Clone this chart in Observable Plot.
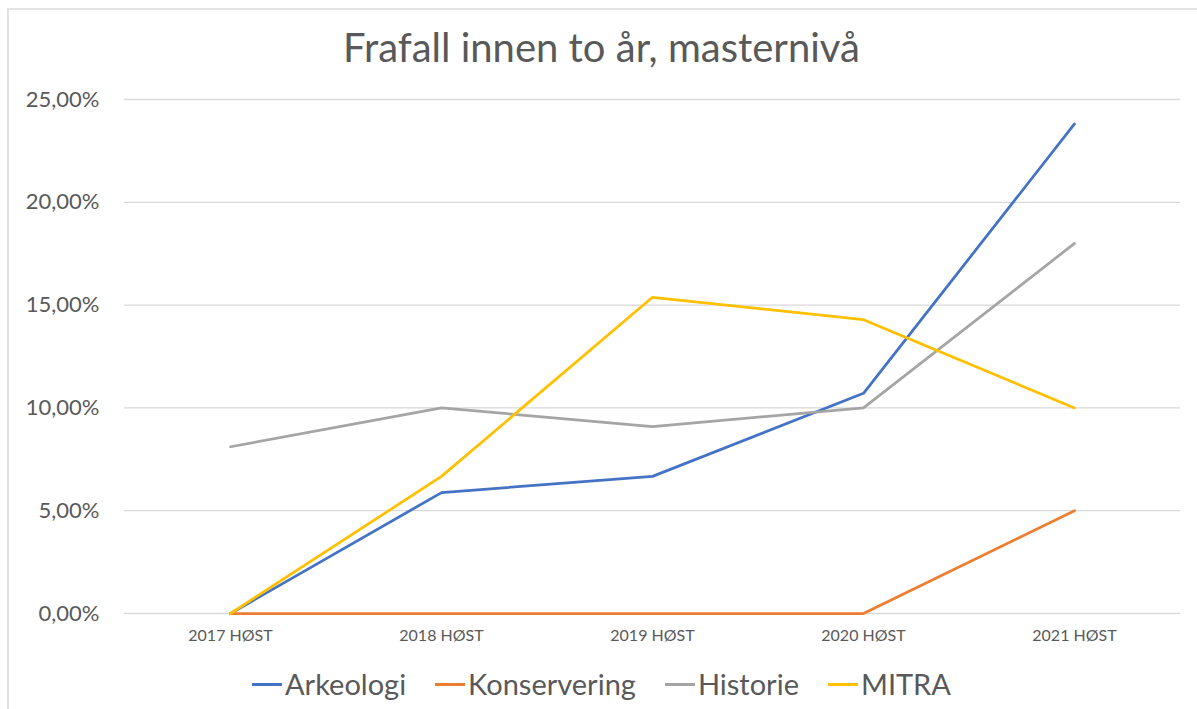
<!DOCTYPE html>
<html>
<head>
<meta charset="utf-8">
<script src="https://cdn.jsdelivr.net/npm/d3@7"></script>
<script src="https://cdn.jsdelivr.net/npm/@observablehq/plot@0.6"></script>
<style>
  html, body { margin: 0; padding: 0; background: #fff; }
  body { width: 1197px; height: 709px; position: relative; overflow: hidden; font-family: Lato, "Open Sans", sans-serif; }
  #frame { position: absolute; left: 7px; top: 8px; width: 1300px; height: 800px; border-top: 2px solid #e3e3e3; border-left: 2px solid #e3e3e3; }
  #title { position: absolute; left: 0; top: 22px; width: 1203px; text-align: center; font-size: 40px; color: #595959; line-height: 50px; }
  #chart { position: absolute; left: 0; top: 70px; }
  #legend { position: absolute; left: 0; top: 664px; width: 1203px; display: flex; justify-content: center; gap: 29px; font-size: 29px; color: #595959; line-height: 40px; }
  #legend .item { display: flex; align-items: center; }
  #legend .sw { width: 30px; height: 3px; margin-right: 3px; }
</style>
</head>
<body>
<div id="frame"></div>
<div id="title">Frafall innen to år, masternivå</div>
<div id="chart"></div>
<div id="legend"></div>
<script>
const categories = ["2017 HØST", "2018 HØST", "2019 HØST", "2020 HØST", "2021 HØST"];
const seriesNames = ["Arkeologi", "Konservering", "Historie", "MITRA"];
const seriesColors = ["#4472C4", "#ED7D31", "#A5A5A5", "#FFC000"];
const arkeologi = [0, 5.88, 6.67, 10.71, 23.81];
const konservering = [0, 0, 0, 0, 5.0];
const historie = [8.11, 10.0, 9.09, 10.0, 18.0];
const mitra = [0, 6.67, 15.38, 14.29, 10.0];
const yTicks = [0, 5, 10, 15, 20, 25];

const seriesValues = [arkeologi, konservering, historie, mitra];
const rows = [];
seriesNames.forEach((s, i) => {
  categories.forEach((c, j) => rows.push({ series: s, cat: c, value: seriesValues[i][j] }));
});

const fmt = d => d.toFixed(2).replace(".", ",") + "%";

const plot = Plot.plot({
  width: 1197,
  height: 590,
  marginTop: 29,
  marginBottom: 47,
  marginLeft: 124,
  marginRight: 17,
  style: { fontFamily: "Lato, 'Open Sans', sans-serif", color: "#595959", background: "transparent" },
  x: { type: "point", domain: categories, padding: 0.5, label: null },
  y: { domain: [0, 25], ticks: yTicks, label: null },
  color: { domain: seriesNames, range: seriesColors },
  marks: [
    Plot.gridY(yTicks, { stroke: "#d9d9d9", strokeOpacity: 1, strokeWidth: 1.3 }),
    Plot.axisY(yTicks, { tickSize: 0, tickPadding: 25, tickFormat: fmt, fontSize: 22, fill: "#595959", label: null }),
    Plot.axisX({ tickSize: 0, tickPadding: 16, fontSize: 16, fill: "#595959", label: null }),
    Plot.line(rows, { x: "cat", y: "value", z: "series", stroke: "series", strokeWidth: 2.75, strokeLinejoin: "round", strokeLinecap: "round" })
  ]
});
document.getElementById("chart").appendChild(plot);

const legend = document.getElementById("legend");
seriesNames.forEach((s, i) => {
  const item = document.createElement("div");
  item.className = "item";
  const sw = document.createElement("span");
  sw.className = "sw";
  sw.style.background = seriesColors[i];
  const t = document.createElement("span");
  t.textContent = s;
  item.appendChild(sw);
  item.appendChild(t);
  legend.appendChild(item);
});
</script>
</body>
</html>
